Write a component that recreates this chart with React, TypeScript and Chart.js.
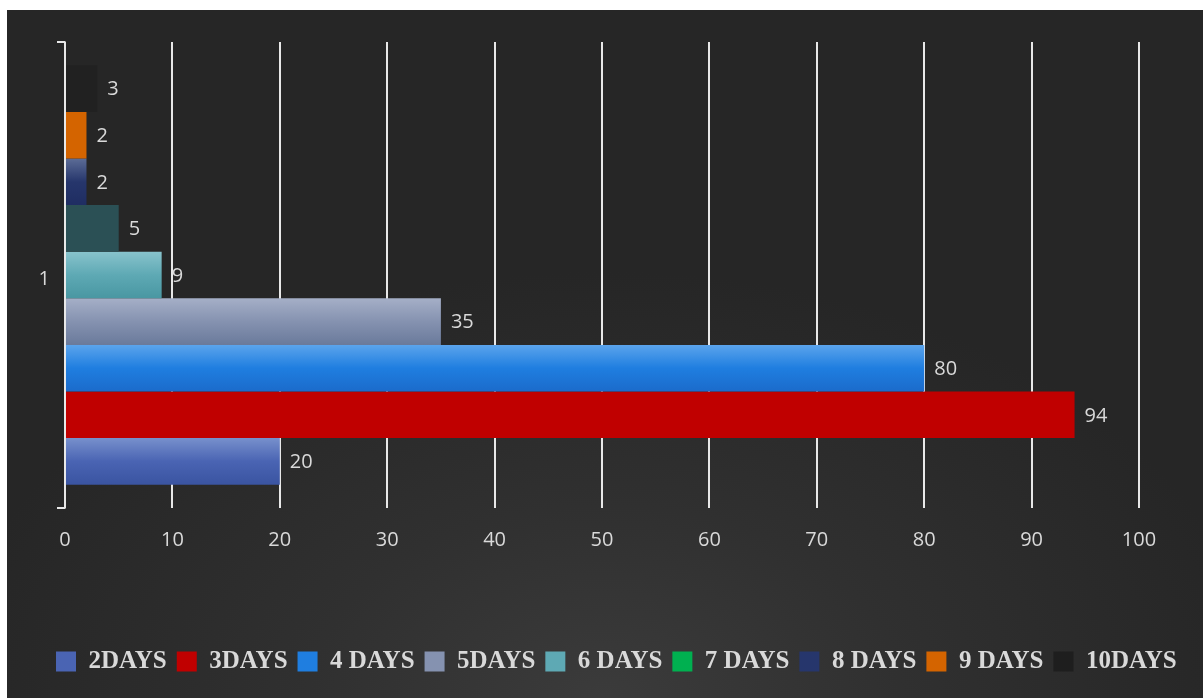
import React, { useEffect, useRef } from "react";
import { Chart, registerables } from "chart.js";

Chart.register(...registerables);

// ---- data ----
const categories = ["1"];
const seriesNames = ["2DAYS", "3DAYS", "4 DAYS", "5DAYS", "6 DAYS", "7 DAYS", "8 DAYS", "9 DAYS", "10DAYS"];
const seriesValues = [20, 94, 80, 35, 9, 5, 2, 2, 3];
const xMin = 0;
const xMax = 100;
const xStep = 10;

// ---- styles ----
const barGradients: string[][] = [
  ["#7790cc", "#4a64b3", "#3a54a1"],
  ["#c00000", "#c00000"],
  ["#5ba4ec", "#1f7ee0", "#1b6bcb"],
  ["#a5afc7", "#8592b0", "#6a7a9b"],
  ["#88c3cc", "#5ea9b4", "#4997a2"],
  ["#2b5055", "#2b5055"],
  ["#5c6c96", "#26366c", "#1f2d62"],
  ["#d46400", "#d46400"],
  ["#212121", "#212121"],
];
const legendColors = ["#4a64b3", "#c00000", "#1f7ee0", "#8592b0", "#5ea9b4", "#00b050", "#26366c", "#d46400", "#1e1e1e"];
const TEXT = "#d9d9d9";
const GRID = "#e8e8e8";
const CAT_PCT = 0.9;
const LEGEND_START_X = 49;

const count = seriesNames.length;

const makeBg = (seriesIdx: number, stackIdx: number) => (ctx: any) => {
  const chart = ctx.chart;
  const area = chart.chartArea;
  const stops = barGradients[seriesIdx];
  if (!area) return stops[1] || stops[0];
  const catH = area.bottom - area.top;
  const size = catH * CAT_PCT;
  const chunk = size / count;
  const center = (area.top + area.bottom) / 2;
  const top = center - size / 2 + chunk * stackIdx;
  const g = chart.ctx.createLinearGradient(0, top, 0, top + chunk);
  stops.forEach((c, i) => g.addColorStop(i / (stops.length - 1), c));
  return g;
};

const valueLabels = {
  id: "valueLabels",
  afterDatasetsDraw(chart: any) {
    const ctx = chart.ctx;
    ctx.save();
    ctx.font = '20px "Open Sans"';
    ctx.fillStyle = TEXT;
    ctx.textAlign = "left";
    ctx.textBaseline = "middle";
    chart.data.datasets.forEach((ds: any, di: number) => {
      const meta = chart.getDatasetMeta(di);
      if (meta.hidden || !chart.isDatasetVisible(di)) return;
      meta.data.forEach((el: any, i: number) => {
        ctx.fillText(String(ds.data[i]), el.x + 10, el.y + 1);
      });
    });
    ctx.restore();
  },
};

const legendShift = {
  id: "legendShift",
  afterLayout(chart: any) {
    const lg = chart.legend;
    if (!lg || !lg.lineWidths || !lg.lineWidths.length) return;
    const pad = lg.options.labels.padding;
    const curX = (lg.left + pad + lg.right - lg.lineWidths[0]) / 2;
    const shift = LEGEND_START_X - curX;
    lg.left += shift;
    lg.right += shift;
  },
};

export default function App() {
  const ref = useRef<HTMLCanvasElement | null>(null);

  useEffect(() => {
    if (!ref.current) return;
    const datasets = [];
    for (let j = 0; j < count; j++) {
      const s = count - 1 - j;
      datasets.push({
        label: seriesNames[s],
        data: [seriesValues[s]],
        backgroundColor: makeBg(s, j),
        borderWidth: 0,
        barPercentage: 1,
        categoryPercentage: CAT_PCT,
      });
    }
    const chart = new Chart(ref.current, {
      type: "bar",
      data: { labels: categories, datasets },
      options: {
        indexAxis: "y",
        animation: false,
        responsive: true,
        maintainAspectRatio: false,
        layout: { padding: { left: 0, top: 32, right: 0, bottom: 14 } },
        scales: {
          x: {
            type: "linear",
            min: xMin,
            max: xMax,
            ticks: { stepSize: xStep, color: TEXT, font: { family: '"Open Sans"', size: 20 }, padding: 20 },
            grid: { color: GRID, lineWidth: 2, drawTicks: false },
            border: { display: false },
            afterFit: (scale: any) => {
              scale.height = 131;
            },
          },
          y: {
            type: "category",
            ticks: { color: TEXT, font: { family: '"Open Sans"', size: 20 }, padding: 7, labelOffset: 4 },
            grid: { display: true, drawOnChartArea: false, drawTicks: true, tickLength: 8, color: GRID, lineWidth: 2, offset: true },
            border: { display: true, color: GRID, width: 1.5 },
            afterFit: (scale: any) => {
              scale.width = 58;
            },
          },
          yRight: {
            type: "category",
            labels: categories,
            position: "right",
            grid: { display: false },
            ticks: { display: false },
            border: { display: false },
            afterFit: (scale: any) => {
              scale.width = 64;
            },
          },
        },
        plugins: {
          tooltip: { enabled: false },
          legend: {
            position: "bottom",
            labels: {
              boxWidth: 20,
              boxHeight: 20,
              padding: 10,
              color: TEXT,
              font: { family: '"Liberation Serif", "Times New Roman", serif', size: 25, weight: "bold" },
              generateLabels: (c: any) =>
                seriesNames.map((name, i) => ({
                  text: name,
                  fillStyle: legendColors[i],
                  strokeStyle: legendColors[i],
                  lineWidth: 0,
                  hidden: !c.isDatasetVisible(count - 1 - i),
                  datasetIndex: count - 1 - i,
                  fontColor: TEXT,
                })),
            },
          },
        },
      },
      plugins: [valueLabels, legendShift],
    } as any);
    return () => chart.destroy();
  }, []);

  return (
    <div
      style={{
        position: "fixed",
        left: 7,
        top: 10,
        width: 1196,
        height: 688,
        background: "radial-gradient(ellipse 55% 62% at 50% 100%, #3b3b3b 0%, #303030 45%, #262626 100%)",
      }}
    >
      <canvas ref={ref} />
    </div>
  );
}
